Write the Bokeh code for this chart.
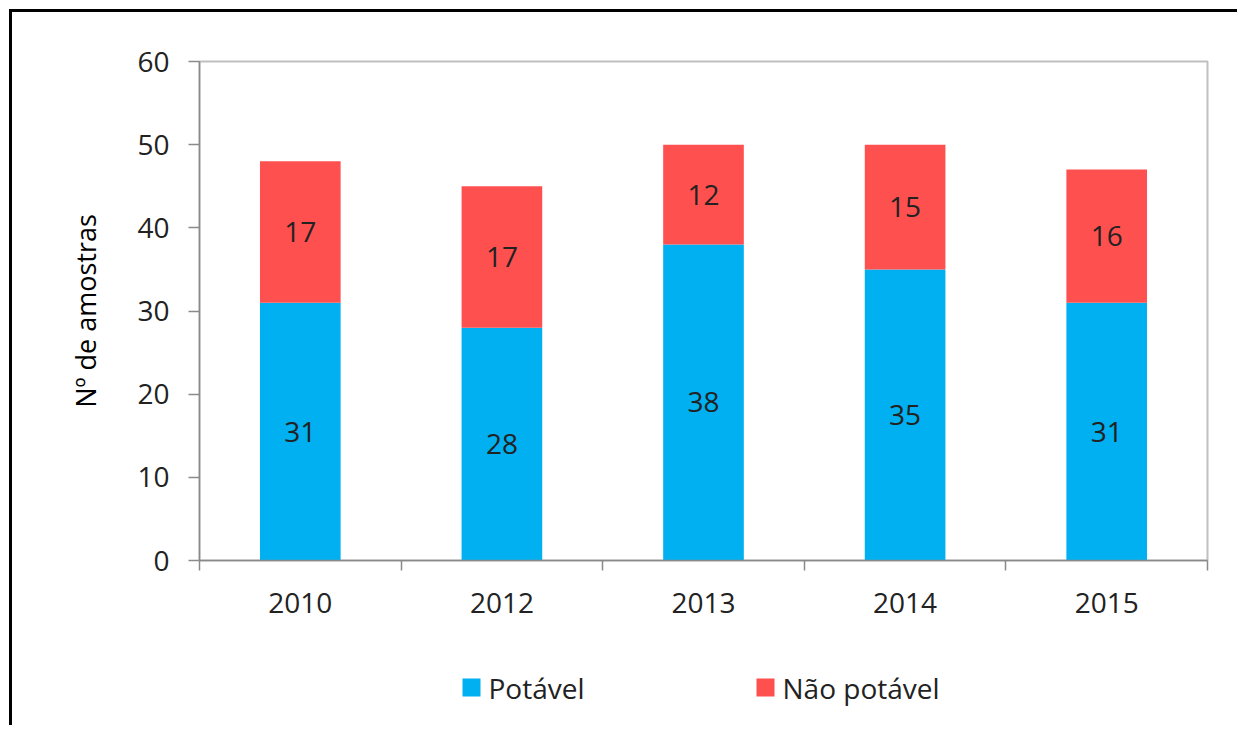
from bokeh.plotting import figure
from bokeh.models import ColumnDataSource, FixedTicker, Range1d
from bokeh.layouts import column
from bokeh.embed import file_html
from bokeh.resources import INLINE
from bokeh.core.properties import value

# ---- data ----
years = ["2010", "2012", "2013", "2014", "2015"]
potavel = [31, 28, 38, 35, 31]
nao_potavel = [17, 17, 12, 15, 16]
y_ticks = [0, 10, 20, 30, 40, 50, 60]
series_names = ["Potável", "Não potável"]
y_label = "Nº de amostras"

FONT = "Open Sans"
BLUE = "#00B0F0"
RED = "#FF5050"
TXT = "#222222"
AX = "#8a8a8a"

xs = [i + 0.5 for i in range(len(years))]
tops = [a + b for a, b in zip(potavel, nao_potavel)]
src = ColumnDataSource(dict(
    x=xs,
    pot=potavel,
    top=tops,
    pot_mid=[v / 2 for v in potavel],
    nao_mid=[a + b / 2 for a, b in zip(potavel, nao_potavel)],
    pot_lbl=[str(v) for v in potavel],
    nao_lbl=[str(v) for v in nao_potavel],
))

W = 1225
p = figure(width=W, height=628,
           x_range=Range1d(0, len(years)), y_range=Range1d(0, 60),
           output_backend="svg", toolbar_location=None,
           min_border_left=187, min_border_top=49,
           min_border_right=30, min_border_bottom=80)

r1 = p.vbar(x="x", width=0.4, bottom=0, top="pot", source=src,
            fill_color=BLUE, line_color=None)
r2 = p.vbar(x="x", width=0.4, bottom="pot", top="top", source=src,
            fill_color=RED, line_color=None)

p.text(x="x", y="pot_mid", text="pot_lbl", source=src,
       text_align="center", text_baseline="middle",
       text_font=value(FONT), text_font_size="28px", text_color=TXT)
p.text(x="x", y="nao_mid", text="nao_lbl", source=src,
       text_align="center", text_baseline="middle",
       text_font=value(FONT), text_font_size="28px", text_color=TXT)

p.xgrid.visible = False
p.ygrid.visible = False
p.outline_line_color = "#c0c0c0"
p.outline_line_width = 2
p.background_fill_color = "white"
p.border_fill_color = "white"

# y axis
ya = p.yaxis[0]
ya.ticker = FixedTicker(ticks=y_ticks, minor_ticks=[])
ya.major_tick_out = 11
ya.major_tick_in = 0
ya.minor_tick_out = 0
ya.minor_tick_in = 0
ya.axis_line_color = AX
ya.axis_line_width = 1.5
ya.major_tick_line_color = AX
ya.major_tick_line_width = 1.5
ya.major_label_standoff = 19
ya.major_label_text_font = FONT
ya.major_label_text_font_size = "28px"
ya.major_label_text_color = TXT
ya.axis_label = y_label
ya.axis_label_text_font = FONT
ya.axis_label_text_font_size = "27px"
ya.axis_label_text_font_style = "normal"
ya.axis_label_text_color = "#000000"
ya.axis_label_standoff = 30

# x axis
xa = p.xaxis[0]
xa.ticker = FixedTicker(ticks=xs, minor_ticks=list(range(len(years) + 1)))
xa.major_label_overrides = {x: y for x, y in zip(xs, years)}
xa.major_tick_out = 0
xa.major_tick_in = 0
xa.minor_tick_out = 10
xa.minor_tick_in = 0
xa.minor_tick_line_color = AX
xa.minor_tick_line_width = 1.5
xa.axis_line_color = AX
xa.axis_line_width = 1.5
xa.major_label_standoff = 22
xa.major_label_text_font = FONT
xa.major_label_text_font_size = "28px"
xa.major_label_text_color = TXT

# ---- legend strip (separate figure below the chart) ----
# Its frame is aligned with the chart frame by the column layout, so the
# x range is expressed in page pixels of that frame (199 .. 1207).
LH = 85
pl = figure(width=W, height=LH, x_range=Range1d(199, 1207), y_range=Range1d(0, LH),
            x_axis_type=None, y_axis_type=None,
            output_backend="svg", toolbar_location=None,
            min_border_left=0, min_border_right=0,
            min_border_top=0, min_border_bottom=0,
            outline_line_color=None)
pl.xgrid.visible = False
pl.ygrid.visible = False

LEG_START = [462, 756]    # left edge of each legend swatch (layout, px)
SW = 18                   # swatch size (px)
LEG_MID = LH - 47         # vertical centre of the legend row
leg_src = ColumnDataSource(dict(
    sx=[s + SW / 2 for s in LEG_START],
    tx=[s + SW + 8 for s in LEG_START],
    y=[LEG_MID] * len(series_names),
    color=[BLUE, RED],
    name=series_names,
))
pl.rect(x="sx", y="y", width=SW, height=SW, source=leg_src,
        fill_color="color", line_color=None)
pl.text(x="tx", y="y", text="name", source=leg_src,
        text_align="left", text_baseline="middle",
        text_font=value(FONT), text_font_size="28px", text_color=TXT)

layout = column(p, pl, spacing=0,
                styles={"border-left": "3px solid black",
                        "border-top": "3px solid black",
                        "margin-left": "9px",
                        "margin-top": "9px"})

with open("out.html", "w") as f:
    f.write(file_html(layout, INLINE))
